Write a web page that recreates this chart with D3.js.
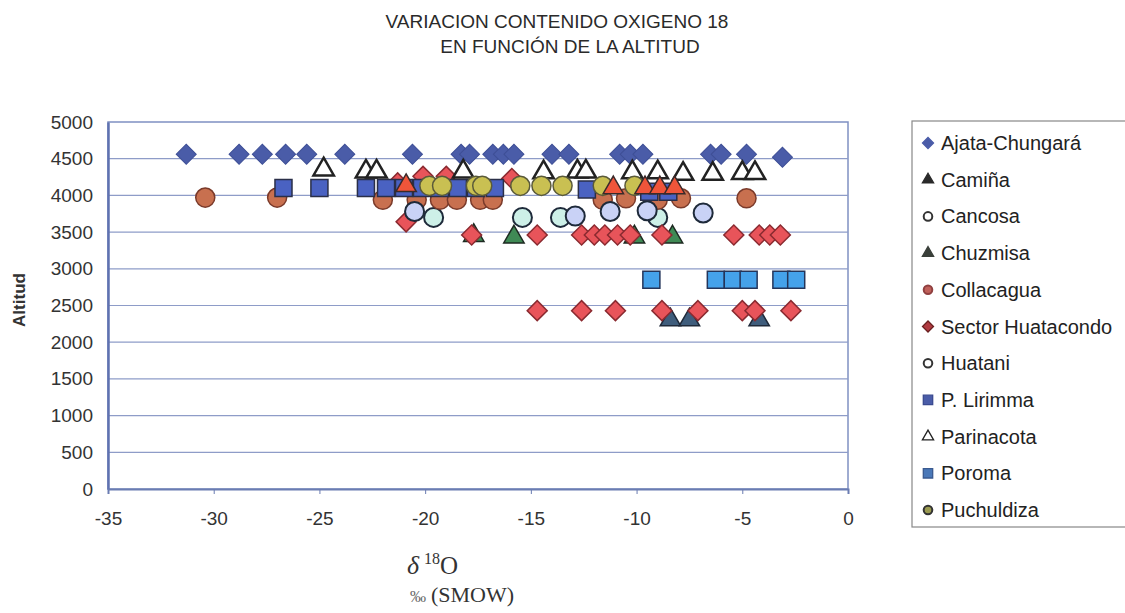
<!DOCTYPE html>
<html><head><meta charset="utf-8">
<script src="https://cdn.jsdelivr.net/npm/d3@7/dist/d3.min.js"></script>
<style>body{margin:0;background:#fff}svg{display:block}</style>
</head><body><svg id="c" width="1125" height="613"></svg>
<script>
// ---------- DATA ----------
const titleLines = ["VARIACION CONTENIDO OXIGENO 18", "EN FUNCIÓN DE LA ALTITUD"];
const xTicks = [-35, -30, -25, -20, -15, -10, -5, 0];
const yTicks = [0, 500, 1000, 1500, 2000, 2500, 3000, 3500, 4000, 4500, 5000];
const legendNames = ["Ajata-Chungará","Camiña","Cancosa","Chuzmisa","Collacagua","Sector Huatacondo","Huatani","P. Lirimma","Parinacota","Poroma","Puchuldiza"];

const ajataX = [-31.3,-28.8,-27.7,-26.6,-25.6,-23.8,-20.6,-18.3,-17.9,-16.8,-16.3,-15.8,-14.0,-13.2,-10.8,-10.3,-9.7,-6.5,-6.0,-4.8,-3.1];
const ajataY = [4560,4560,4560,4560,4560,4560,4560,4560,4560,4560,4560,4560,4560,4560,4560,4560,4560,4560,4560,4560,4520];

const caminaX = [-8.4,-7.5,-4.2];
const caminaY = [2330,2330,2330];

const cancosaX = [-19.6,-15.4,-13.6,-9.0];
const cancosaY = [3700,3700,3700,3700];

const chuzmisaX = [-17.7,-15.8,-10.1,-8.3];
const chuzmisaY = [3480,3460,3460,3460];

const collacaguaX = [-30.4,-27.0,-22.0,-20.4,-19.3,-18.5,-17.4,-16.8,-11.6,-10.5,-9.0,-7.9,-4.8];
const collacaguaY = [3970,3970,3940,3940,3940,3940,3940,3940,3940,3960,3940,3960,3960];

const huatacondoX = [-14.7,-12.6,-11.0,-8.8,-7.1,-5.0,-4.4,-2.7,
                     -17.8,-14.7,-12.6,-12.0,-11.5,-10.9,-10.3,-8.8,-5.4,-4.2,-3.7,-3.2,
                     -20.9,-21.3,-20.1,-19.0,-15.9];
const huatacondoY = [2430,2430,2430,2430,2430,2430,2430,2430,
                     3460,3460,3460,3460,3460,3460,3460,3460,3460,3460,3460,3460,
                     3640,4170,4260,4260,4230];

const huataniX = [-20.5,-12.9,-11.25,-9.5,-6.85];
const huataniY = [3780,3720,3780,3790,3760];

const lirimmaX = [-26.7,-25.0,-22.8,-21.85,-21.0,-20.15,-19.3,-18.45,-17.6,-16.7,-12.35,-9.4,-8.5];
const lirimmaY = [4100,4100,4100,4100,4100,4100,4100,4100,4100,4100,4080,4050,4050];

const parinacotaX = [-24.8,-22.8,-22.3,-18.2,-14.4,-12.8,-12.4,-10.2,-9.0,-7.8,-6.4,-5.0,-4.4];
const parinacotaY = [4380,4350,4350,4350,4340,4350,4350,4340,4340,4320,4320,4330,4330];

const poromaX = [-9.3,-6.25,-5.45,-4.7,-3.15,-2.45];
const poromaY = [2850,2850,2850,2850,2850,2850];

const puchuldizaX = [-19.8,-19.2,-17.6,-17.3,-15.5,-14.5,-13.5,-11.6,-10.1];
const puchuldizaY = [4130,4130,4130,4130,4130,4130,4130,4130,4130];

const otrosX = [-20.9,-11.1,-9.6,-8.9,-8.2];
const otrosY = [4160,4130,4130,4130,4130];

// ---------- STYLE ----------
const seriesList = [
  {name:"Ajata-Chungará", xs:ajataX, ys:ajataY, shape:"diamond", fill:"#4a5ca8", stroke:"#3e4f96", sw:1, lfill:"#4a5ca8", lstroke:"#4a5ca8"},
  {name:"Camiña", xs:caminaX, ys:caminaY, shape:"triangle", fill:"#3f5d7c", stroke:"#1f2a3a", sw:1.5, lfill:"#2a2a2a", lstroke:"#2a2a2a"},
  {name:"Cancosa", xs:cancosaX, ys:cancosaY, shape:"circle", fill:"#cdf0e8", stroke:"#1e2a3a", sw:2, lfill:"#ffffff", lstroke:"#333"},
  {name:"Chuzmisa", xs:chuzmisaX, ys:chuzmisaY, shape:"triangle", fill:"#3f8a55", stroke:"#1e2a22", sw:1.5, lfill:"#3a3f3a", lstroke:"#3a3f3a"},
  {name:"Collacagua", xs:collacaguaX, ys:collacaguaY, shape:"circle", fill:"#c8704f", stroke:"#7a3a2a", sw:1.5, lfill:"#c0605a", lstroke:"#904040"},
  {name:"Sector Huatacondo", xs:huatacondoX, ys:huatacondoY, shape:"diamond", fill:"#e8545a", stroke:"#8a2a30", sw:1.5, lfill:"#b03a40", lstroke:"#6a2020"},
  {name:"Huatani", xs:huataniX, ys:huataniY, shape:"circle", fill:"#c9d2f6", stroke:"#1e2a3a", sw:2, lfill:"#ffffff", lstroke:"#333"},
  {name:"P. Lirimma", xs:lirimmaX, ys:lirimmaY, shape:"square", fill:"#4a62c2", stroke:"#2a2f48", sw:1.5, lfill:"#4a5ca8", lstroke:"#3a4a90"},
  {name:"Parinacota", xs:parinacotaX, ys:parinacotaY, shape:"triangle", fill:"#ffffff", stroke:"#222", sw:2.5, lfill:"#ffffff", lstroke:"#222"},
  {name:"Poroma", xs:poromaX, ys:poromaY, shape:"square", fill:"#45a2ea", stroke:"#24355a", sw:1.5, lfill:"#4a78b8", lstroke:"#3a5a90"},
  {name:"Puchuldiza", xs:puchuldizaX, ys:puchuldizaY, shape:"circle", fill:"#c9c052", stroke:"#5a5a3a", sw:1.5, lfill:"#9a9a50", lstroke:"#333"},
  {name:"Otros", xs:otrosX, ys:otrosY, shape:"triangle", fill:"#f0553a", stroke:"#3a2a2a", sw:1.5}
];

const svg = d3.select("#c");
const FONT = "'Liberation Sans', Arial, sans-serif";
const x = d3.scaleLinear().domain([-35, 0]).range([108, 848]);
const y = d3.scaleLinear().domain([0, 5000]).range([489, 122]);
const plainFmt = d => String(d);

// title
svg.append("text").attr("x", 557).attr("y", 28).attr("text-anchor","middle")
  .attr("font-family", FONT).attr("font-size", 19).attr("fill","#2a2a2a").text(titleLines[0]);
svg.append("text").attr("x", 570).attr("y", 53).attr("text-anchor","middle")
  .attr("font-family", FONT).attr("font-size", 19).attr("fill","#2a2a2a").text(titleLines[1]);

// plot area border
svg.append("rect").attr("x", x(-35)).attr("y", y(5000)).attr("width", x(0)-x(-35)).attr("height", y(0)-y(5000))
  .attr("fill","#fff").attr("stroke","#7f90c2").attr("stroke-width",1.5);

// gridlines
svg.append("g").selectAll("line").data(yTicks.filter(v => v>0 && v<5000)).join("line")
  .attr("x1", x(-35)).attr("x2", x(0)).attr("y1", d=>y(d)).attr("y2", d=>y(d))
  .attr("stroke","#8e9cc8").attr("stroke-width",1.2);

// y axis
const gy = svg.append("g").attr("transform", `translate(${x(-35)},0)`)
  .call(d3.axisLeft(y).tickValues(yTicks).tickSize(0).tickPadding(15).tickFormat(plainFmt));
gy.select(".domain").attr("stroke","#5f72b0").attr("stroke-width",2.5);
gy.selectAll("text").attr("font-family", FONT).attr("font-size", 19).attr("fill","#333");

// x axis
const gx = svg.append("g").attr("transform", `translate(0,${y(0)})`)
  .call(d3.axisBottom(x).tickValues(xTicks).tickSize(5).tickPadding(18).tickFormat(plainFmt));
gx.select(".domain").attr("stroke","#6a7cb2").attr("stroke-width",2);
gx.selectAll(".tick line").attr("stroke","#6a7cb2");
gx.selectAll("text").attr("font-family", FONT).attr("font-size", 19).attr("fill","#333");

// y axis title
svg.append("text").attr("transform","translate(25,300) rotate(-90)").attr("text-anchor","middle")
  .attr("font-family", FONT).attr("font-weight","bold").attr("font-size", 17).attr("fill","#333").text("Altitud");

// x axis title
const xt = svg.append("text").attr("x", 407).attr("y", 574).attr("font-family","'Liberation Serif', 'Times New Roman', serif").attr("fill","#333");
xt.append("tspan").attr("font-size", 26).attr("font-style","italic").text("δ");
xt.append("tspan").attr("font-size", 16).attr("dx", 5).attr("dy", -10).text("18");
xt.append("tspan").attr("font-size", 25).attr("dy", 10).text("O");
const xt2 = svg.append("text").attr("x", 410).attr("y", 602).attr("font-family","'Liberation Serif', 'Times New Roman', serif").attr("fill","#333");
xt2.append("tspan").attr("font-size", 16).attr("fill","#666").text("‰");
xt2.append("tspan").attr("font-size", 22).attr("dx", 5).text("(SMOW)");

// markers
function markerPath(shape, scale) {
  const s = scale || 1;
  if (shape === "diamond") return d3.symbol(d3.symbolSquare, 200*s*s)();
  if (shape === "circle") return d3.symbol(d3.symbolCircle, 285*s*s)();
  if (shape === "square") return d3.symbol(d3.symbolSquare, 290*s*s)();
  return d3.symbol(d3.symbolTriangle, 180*s*s)();
}
seriesList.forEach(sr => {
  const pts = sr.xs.map((v,i) => [v, sr.ys[i]]);
  svg.append("g").selectAll("path").data(pts).join("path")
    .attr("d", markerPath(sr.shape))
    .attr("transform", d => `translate(${x(d[0])},${y(d[1]) + (sr.shape==="triangle"?2:0)})` + (sr.shape==="diamond" ? " rotate(45)" : ""))
    .attr("fill", sr.fill).attr("stroke", sr.stroke).attr("stroke-width", sr.sw);
});

// legend
svg.append("rect").attr("x", 912).attr("y", 121).attr("width", 240).attr("height", 406)
  .attr("fill","none").attr("stroke","#888").attr("stroke-width",1.2);
const lg = svg.append("g");
legendNames.forEach((nm, i) => {
  const sr = seriesList.find(s => s.name === nm);
  const cy = 143 + i*36.7;
  let t = `translate(928,${cy})`;
  if (sr.shape === "diamond") t += " rotate(45)";
  const sc = sr.shape === "circle" ? 0.45 : 0.55;
  lg.append("path").attr("d", markerPath(sr.shape, sc)).attr("transform", t)
    .attr("fill", sr.lfill).attr("stroke", sr.lstroke).attr("stroke-width", sr.shape==="circle"?2:1.3);
  lg.append("text").attr("x", 941).attr("y", cy + 7).attr("font-family", FONT).attr("font-size", 20)
    .attr("fill","#222").text(nm);
});
</script></body></html>
